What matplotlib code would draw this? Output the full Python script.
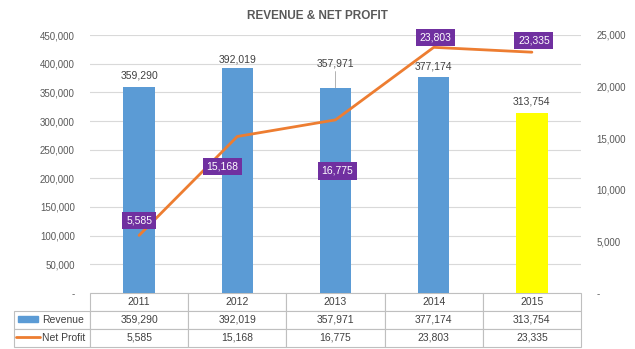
import matplotlib.pyplot as plt
from matplotlib.patches import Rectangle
from matplotlib.lines import Line2D
from matplotlib.ticker import FuncFormatter, MultipleLocator

plt.rcParams['font.family'] = ['Liberation Sans', 'DejaVu Sans']

years = ['2011', '2012', '2013', '2014', '2015']
revenue = [359290, 392019, 357971, 377174, 313754]
net_profit = [5585, 15168, 16775, 23803, 23335]
series_names = ['Revenue', 'Net Profit']
bar_colors = ['#5B9BD5', '#5B9BD5', '#5B9BD5', '#5B9BD5', '#FFFF00']

# label offsets in pixels (hand placed like in the original)
rev_off = [(0, 12), (0, 9), (0, 19), (0, 10), (0, 12)]
np_off = [(0, 15), (-15, -30), (2, -51), (2, 10), (2, 12)]

txt_col = '#595959'
grid_col = '#D9D9D9'

W, H = 635, 349
fig = plt.figure(figsize=(W / 100, H / 100), dpi=100)
ax = fig.add_axes([90 / W, (H - 293) / H, 491 / W, 258 / H])
ax2 = ax.twinx()

x = list(range(len(years)))
ax.bar(x, revenue, width=0.32, color=bar_colors, zorder=2)
ax.set_xlim(-0.5, 4.5)
ax.set_ylim(0, 450000)
ax.yaxis.set_major_locator(MultipleLocator(50000))
ax.yaxis.grid(True, color=grid_col, lw=0.8, zorder=0)
ax.set_axisbelow(True)
ax.set_xticks([])

ax2.plot(x, net_profit, color='#ED7D31', lw=2, solid_capstyle='round', zorder=3)
ax2.set_ylim(0, 25000)
ax2.yaxis.set_major_locator(MultipleLocator(5000))


def fmt(v, pos):
    return '-' if v == 0 else '{:,.0f}'.format(v)


for a in (ax, ax2):
    for s in a.spines.values():
        s.set_visible(False)
    a.yaxis.set_major_formatter(FuncFormatter(fmt))
    a.tick_params(axis='y', length=0, labelsize=7, labelcolor=txt_col)
ax.tick_params(axis='y', pad=11)
ax2.tick_params(axis='y', pad=11)

for i, v in enumerate(revenue):
    if i == 2:
        ax.annotate('{:,}'.format(v), (i, v), xytext=rev_off[i], textcoords='offset pixels',
                    ha='center', va='bottom', fontsize=7.5, color='#404040',
                    arrowprops=dict(arrowstyle='-', color='#A6A6A6', lw=0.6, shrinkA=0, shrinkB=0))
    else:
        ax.annotate('{:,}'.format(v), (i, v), xytext=rev_off[i], textcoords='offset pixels',
                    ha='center', va='center', fontsize=7.5, color='#404040')

for i, v in enumerate(net_profit):
    ax2.annotate('{:,}'.format(v), (i, v), xytext=np_off[i], textcoords='offset pixels',
                 ha='center', va='center', fontsize=7.5, color='white', zorder=5,
                 bbox=dict(boxstyle='square,pad=0.35', fc='#7030A0', ec='none'))

fig.text(0.5, 1 - 16 / H, 'REVENUE & NET PROFIT', ha='center', va='center',
         fontsize=8.5, fontweight='bold', color=txt_col)

# data table under the plot; first column holds the series names
cell_text = [[''] + years,
             [series_names[0]] + ['{:,}'.format(v) for v in revenue],
             [series_names[1]] + ['{:,}'.format(v) for v in net_profit]]
tbl = ax.table(cellText=cell_text, cellLoc='center',
               bbox=[(14 - 90) / 491, -54 / 258, (581 - 14) / 491, 54 / 258])
tbl.auto_set_font_size(False)
first_w = 76 / 567
other_w = (1 - first_w) / len(years)
for (r, c), cell in tbl.get_celld().items():
    cell.set_edgecolor('#BFBFBF')
    cell.set_linewidth(0.8)
    cell.set_width(first_w if c == 0 else other_w)
    t = cell.get_text()
    t.set_fontsize(7.5)
    t.set_color('#404040')
    if c == 0:
        if r == 0:
            cell.visible_edges = ''
        else:
            t.set_ha('left')
            cell.PAD = 28 / 76

# legend keys inside the series name cells
fig.add_artist(Rectangle((18 / W, 1 - 322 / H), 20 / W, 6 / H, color='#5B9BD5', transform=fig.transFigure))
fig.add_artist(Line2D([16 / W, 40 / W], [1 - 337 / H, 1 - 337 / H], color='#ED7D31', lw=2,
                      solid_capstyle='round', transform=fig.transFigure))

fig.savefig('out.png', dpi=100)
